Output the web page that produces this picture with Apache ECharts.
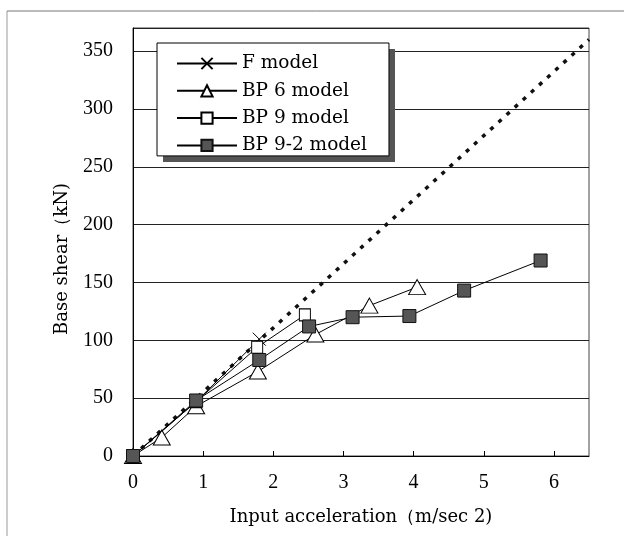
<!DOCTYPE html>
<html>
<head>
<meta charset="utf-8">
<script src="https://cdn.jsdelivr.net/npm/echarts@6/dist/echarts.min.js"></script>
<style>
html,body{margin:0;padding:0;background:#fff;}
#c{width:624px;height:536px;}
</style>
</head>
<body>
<div id="c"></div>
<script>
// Data
const seriesNames = ['F model', 'BP 6 model', 'BP 9 model', 'BP 9-2 model'];
const fModel = [[0, 0], [0.9, 47], [1.8, 101]];
const bp6Model = [[0, 0], [0.41, 16], [0.9, 43], [1.78, 73], [2.6, 105], [3.37, 130], [4.05, 146]];
const bp9Model = [[0, 0], [0.9, 47], [1.77, 94], [2.45, 122]];
const bp92Model = [[0, 0], [0.9, 48], [1.8, 83], [2.51, 112], [3.13, 120], [3.94, 121], [4.72, 143], [5.81, 169]];
const referenceLine = [[0, 0], [6.5, 360]];
const xTicks = [0, 1, 2, 3, 4, 5, 6];
const yTicks = [0, 50, 100, 150, 200, 250, 300, 350];

const serif = 'Liberation Serif';
const legendFont = 'DejaVu Serif';

const chart = echarts.init(document.getElementById('c'), null, {renderer: 'canvas'});

const lineStyle = {color: '#000', width: 1};

chart.setOption({
  backgroundColor: '#fff',
  animation: false,
  grid: {
    left: 133, right: 35, top: 28, bottom: 80,
    show: true, borderColor: '#444', borderWidth: 1, backgroundColor: '#fff'
  },
  graphic: [
    {type: 'line', shape: {x1: 7, y1: 11, x2: 624, y2: 11}, style: {stroke: '#777', lineWidth: 1}, silent: true},
    {type: 'line', shape: {x1: 7, y1: 11, x2: 7, y2: 536}, style: {stroke: '#999', lineWidth: 1}, silent: true},
    {type: 'rect', z: 3, shape: {x: 163, y: 49, width: 232, height: 113}, style: {fill: '#555'}, silent: true}
  ],
  legend: {
    data: seriesNames,
    orient: 'vertical',
    left: 157, top: 43,
    padding: [11, 22, 1, 19],
    itemWidth: 60, itemHeight: 14, itemGap: 8.3,
    backgroundColor: '#fff',
    borderColor: '#000', borderWidth: 1,
    z: 5,
    textStyle: {fontFamily: legendFont, fontSize: 18.5, color: '#000'}
  },
  xAxis: {
    type: 'value', min: 0, max: 6.5, interval: 1,
    name: 'Input acceleration（m/sec 2)',
    nameLocation: 'middle', nameGap: 52,
    nameTextStyle: {fontFamily: legendFont, fontSize: 18, color: '#000'},
    axisLine: {show: true, lineStyle: {color: '#000', width: 1}},
    axisTick: {show: true, inside: true, length: 5, lineStyle: {color: '#000'}},
    axisLabel: {
      fontFamily: serif, fontSize: 20, color: '#000', margin: 17,
      showMaxLabel: false,
      formatter: v => (xTicks.indexOf(v) >= 0 ? String(v) : '')
    },
    splitLine: {show: false}
  },
  yAxis: {
    type: 'value', min: 0, max: 370, interval: 50,
    name: 'Base shear（kN)',
    nameLocation: 'middle', nameGap: 62,
    nameRotate: 90,
    nameTextStyle: {fontFamily: legendFont, fontSize: 18, color: '#000', padding: [0, 34, 0, 0]},
    axisLine: {show: true, lineStyle: {color: '#000', width: 1}},
    axisTick: {show: false},
    axisLabel: {
      fontFamily: serif, fontSize: 20, color: '#000', margin: 20,
      showMaxLabel: false,
      formatter: v => (yTicks.indexOf(v) >= 0 ? String(v) : '')
    },
    splitLine: {show: true, lineStyle: {color: '#222', width: 1}}
  },
  series: [
    {
      name: 'F model', type: 'line', data: fModel, z: 3,
      symbol: 'path://M0,0L10,10M10,0L0,10', symbolSize: 13,
      lineStyle: lineStyle,
      itemStyle: {color: '#000', borderColor: '#000', borderWidth: 1}
    },
    {
      name: 'BP 6 model', type: 'line', data: bp6Model, z: 3,
      symbol: 'triangle', symbolSize: [17, 15],
      lineStyle: lineStyle,
      itemStyle: {color: '#fff', borderColor: '#000', borderWidth: 1}
    },
    {
      name: 'BP 9 model', type: 'line', data: bp9Model, z: 3,
      symbol: 'rect', symbolSize: [11, 12],
      lineStyle: lineStyle,
      itemStyle: {color: '#fff', borderColor: '#000', borderWidth: 1}
    },
    {
      name: 'BP 9-2 model', type: 'line', data: bp92Model, z: 4,
      symbol: 'rect', symbolSize: [13, 13],
      lineStyle: lineStyle,
      itemStyle: {color: '#555', borderColor: '#111', borderWidth: 1}
    },
    {
      name: 'reference', type: 'line', data: referenceLine, z: 2,
      symbol: 'none',
      lineStyle: {color: '#111', width: 3.5, type: [4, 7]}
    }
  ]
});
</script>
</body>
</html>
